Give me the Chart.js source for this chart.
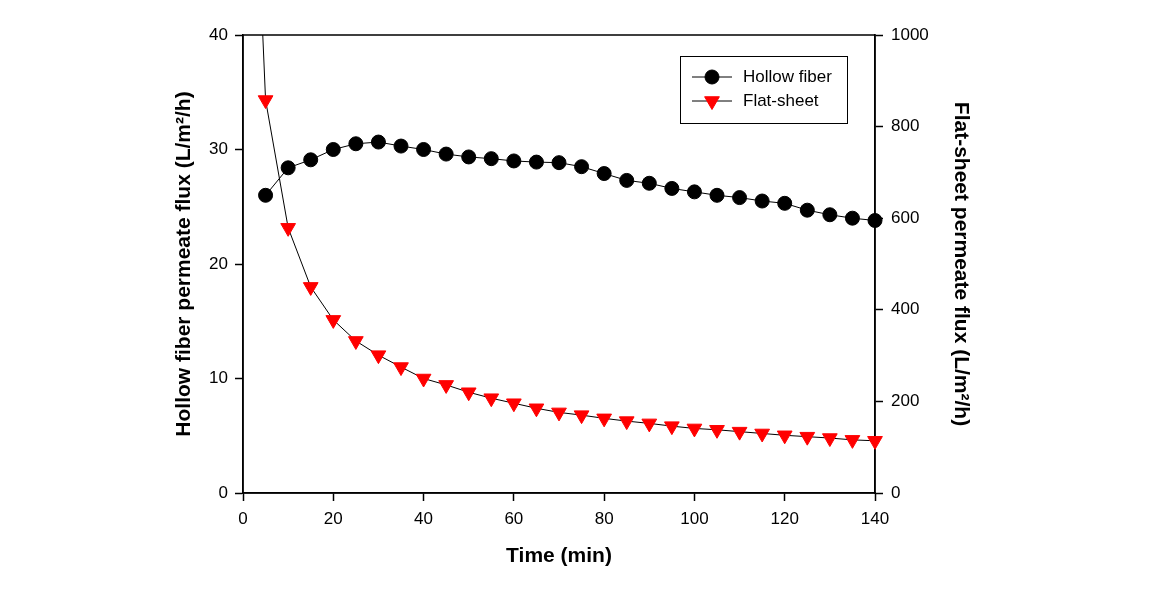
<!DOCTYPE html>
<html>
<head>
<meta charset="utf-8">
<script src="https://cdn.jsdelivr.net/npm/chart.js@4"></script>
<style>
  html, body { margin: 0; padding: 0; background: #fff; }
  #wrap { width: 1149px; height: 611px; }
</style>
</head>
<body>
<div id="wrap"><canvas id="myChart" width="1149" height="611"></canvas></div>
<script>
// Data
const hollowTime = [5, 10, 15, 20, 25, 30, 35, 40, 45, 50, 55, 60, 65, 70, 75, 80, 85, 90, 95, 100, 105, 110, 115, 120, 125, 130, 135, 140];
const hollowFlux = [26.0, 28.4, 29.1, 30.0, 30.5, 30.65, 30.3, 30.0, 29.6, 29.35, 29.2, 29.0, 28.9, 28.85, 28.5, 27.9, 27.3, 27.05, 26.6, 26.3, 26.0, 25.8, 25.5, 25.3, 24.7, 24.3, 24.0, 23.8];

const flatTime = [0, 5, 10, 15, 20, 25, 30, 35, 40, 45, 50, 55, 60, 65, 70, 75, 80, 85, 90, 95, 100, 105, 110, 115, 120, 125, 130, 135, 140];
const flatFlux = [2000, 858, 579, 450, 378, 332, 301, 275, 250, 236, 220, 207, 196, 185, 176, 170, 163, 157, 152, 146, 141, 138, 134, 130, 126, 123, 120, 116, 114];

const FONT = "'Liberation Sans', Arial, sans-serif";

// full frame around the plot
const frame = {
    id: 'frame',
    beforeDatasetsDraw(chart) {
        const a = chart.chartArea;
        const ctx = chart.ctx;
        ctx.save();
        ctx.strokeStyle = '#000';
        ctx.lineWidth = 1.5;
        ctx.strokeRect(a.left, a.top, a.right - a.left, a.bottom - a.top);
        ctx.restore();
    }
};

// legend box inside the plot
const boxLegend = {
    id: 'boxLegend',
    afterDraw(chart) {
        const ctx = chart.ctx;
        const x0 = 680, y0 = 56, w = 167, h = 67;
        ctx.save();
        ctx.fillStyle = '#fff';
        ctx.fillRect(x0, y0, w, h);
        ctx.strokeStyle = '#000';
        ctx.lineWidth = 1;
        ctx.strokeRect(x0 + 0.5, y0 + 0.5, w, h);
        chart.data.datasets.forEach((ds, i) => {
            const y = 77 + i * 24;
            ctx.beginPath();
            ctx.moveTo(692, y);
            ctx.lineTo(732, y);
            ctx.strokeStyle = '#000';
            ctx.lineWidth = 1;
            ctx.stroke();
            ctx.fillStyle = ds.pointBackgroundColor;
            ctx.strokeStyle = ds.pointBorderColor;
            Chart.helpers.drawPoint(ctx, {
                pointStyle: ds.pointStyle,
                radius: ds.pointRadius,
                rotation: ds.pointRotation || 0,
                borderWidth: 1
            }, 712, y);
            ctx.fillStyle = '#000';
            ctx.font = '17px ' + FONT;
            ctx.textBaseline = 'middle';
            ctx.fillText(ds.label, 743, y);
        });
        ctx.restore();
    }
};

const tickFont = { family: FONT, size: 17 };
const titleFont = { family: FONT, size: 21, weight: 'bold' };
const gridOpts = { drawOnChartArea: false, tickLength: 8, color: '#000', tickWidth: 1.5 };

const ctx = document.getElementById('myChart').getContext('2d');
new Chart(ctx, {
    type: 'line',
    data: {
        datasets: [{
            label: 'Hollow fiber',
            data: hollowTime.map((t, i) => ({ x: t, y: hollowFlux[i] })),
            yAxisID: 'y',
            borderColor: '#000',
            borderWidth: 1,
            pointStyle: 'circle',
            pointRadius: 7,
            pointBackgroundColor: '#000',
            pointBorderColor: '#000',
            clip: false,
            tension: 0
        }, {
            label: 'Flat-sheet',
            data: flatTime.map((t, i) => ({ x: t, y: flatFlux[i] })),
            yAxisID: 'y2',
            borderColor: '#000',
            borderWidth: 1,
            pointStyle: 'triangle',
            pointRotation: 180,
            pointRadius: 8.5,
            pointBackgroundColor: '#ff0000',
            pointBorderColor: '#ff0000',
            clip: { left: 10, top: 0, right: 12, bottom: 10 },
            tension: 0
        }]
    },
    options: {
        responsive: false,
        animation: false,
        layout: { padding: { left: 172, right: 176, top: 35, bottom: 42 } },
        plugins: {
            legend: { display: false },
            tooltip: { enabled: false }
        },
        scales: {
            x: {
                type: 'linear',
                min: 0,
                max: 140,
                afterFit: s => { s.height = 76; },
                border: { color: '#000', width: 1.5 },
                grid: gridOpts,
                ticks: { stepSize: 20, color: '#000', font: tickFont, padding: 8 },
                title: { display: true, text: 'Time (min)', color: '#000', font: titleFont, padding: 0 }
            },
            y: {
                position: 'left',
                min: 0,
                max: 40,
                afterFit: s => { s.width = 71; },
                border: { color: '#000', width: 1.5 },
                grid: gridOpts,
                ticks: { stepSize: 10, color: '#000', font: tickFont, padding: 7 },
                title: { display: true, text: 'Hollow fiber permeate flux (L/m²/h)', color: '#000', font: titleFont, padding: 0 }
            },
            y2: {
                position: 'right',
                min: 0,
                max: 1000,
                afterFit: s => { s.width = 98; },
                border: { color: '#000', width: 1.5 },
                grid: gridOpts,
                ticks: { stepSize: 200, color: '#000', font: tickFont, padding: 8, callback: v => String(v) },
                title: { display: true, text: 'Flat-sheet permeate flux (L/m²/h)', color: '#000', font: titleFont, padding: 0 }
            }
        }
    },
    plugins: [frame, boxLegend]
});
</script>
</body>
</html>
